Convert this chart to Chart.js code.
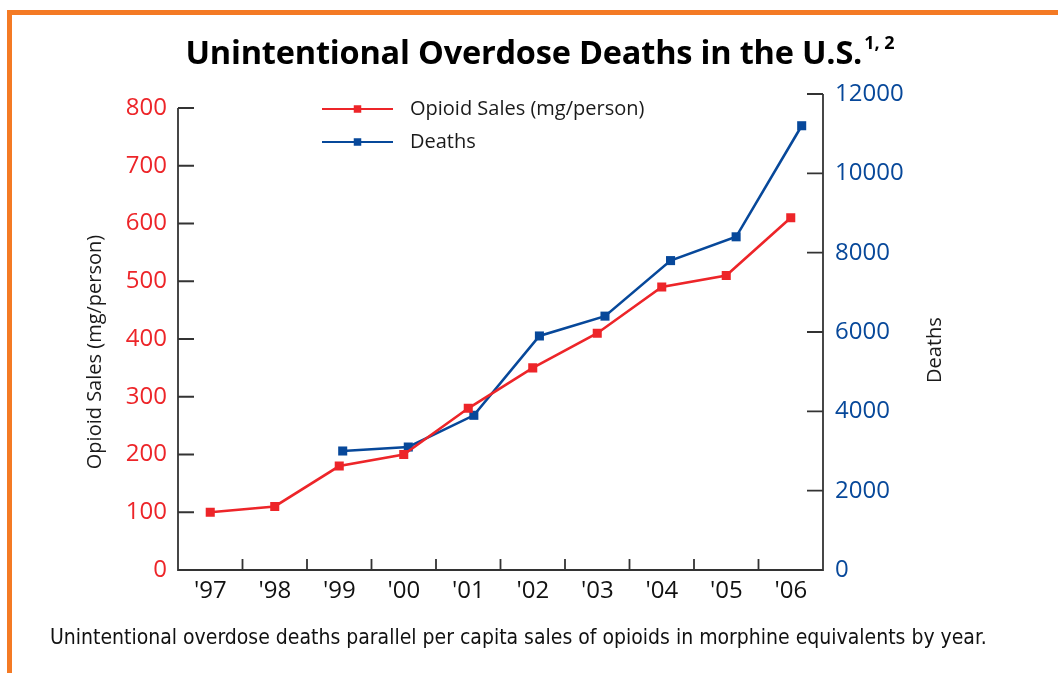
<!DOCTYPE html>
<html>
<head>
<meta charset="utf-8">
<script src="https://cdn.jsdelivr.net/npm/chart.js@4.4.0/dist/chart.umd.min.js"></script>
<style>
html, body { margin: 0; padding: 0; background: #fff; width: 1058px; height: 673px; overflow: hidden; }
#frame { position: absolute; left: 7px; top: 10px; width: 1100px; height: 700px;
  border-top: 5px solid #f47a24; border-left: 5px solid #f47a24; }
#title { position: absolute; left: 0; width: 1080px; top: 29px; text-align: center;
  font: bold 32.5px "Open Sans"; color: #000; white-space: nowrap; letter-spacing: -0.2px; }
#title sup { font-size: 18px; position: relative; top: -3px; margin-left: 2px; letter-spacing: 0; }
#caption { position: absolute; left: 50px; top: 625px; font: 21px "Liberation Sans Narrow", "DejaVu Sans Condensed", sans-serif;
  color: #111; white-space: nowrap; }
#wrap { position: absolute; left: 0; top: 0; width: 1058px; height: 673px; }
</style>
</head>
<body>
<div id="frame"></div>
<div id="wrap"><canvas id="overdoseChart"></canvas></div>
<div id="title">Unintentional Overdose Deaths in the U.S.<sup>1, 2</sup></div>
<div id="caption">Unintentional overdose deaths parallel per capita sales of opioids in morphine equivalents by year.</div>
<script>
// values
const years = ["'97", "'98", "'99", "'00", "'01", "'02", "'03", "'04", "'05", "'06"];
const salesValues = [100, 110, 180, 200, 280, 350, 410, 490, 510, 610];
const deathValues = [null, null, 3000, 3100, 3900, 5900, 6400, 7800, 8400, 11200];
const salesTickMax = 800;
const deathTickMax = 12000;

const red = '#ed2529';
const blue = '#07489a';
const ink = '#1a1a1a';

Chart.defaults.font.family = 'Open Sans';

// deaths were plotted on a slightly wider spacing than the sales series
const deathPoints = deathValues
    .map((v, i) => (v === null ? null : { x: i, y: v }))
    .filter(p => p !== null);

// axis lines with inward ticks, axis titles and the two-row legend
const framePlugin = {
    id: 'frame',
    beforeDatasetsDraw(chart) {
        const { ctx, scales } = chart;
        const x = scales.x, yL = scales.yL, yR = scales.yR;
        const base = yL.getPixelForValue(0);
        ctx.save();
        ctx.strokeStyle = '#333';
        ctx.lineWidth = 1.8;
        ctx.beginPath();
        ctx.moveTo(x.left, yL.getPixelForValue(salesTickMax));
        ctx.lineTo(x.left, base);
        ctx.lineTo(x.right, base);
        ctx.lineTo(x.right, yR.getPixelForValue(deathTickMax));
        yL.ticks.forEach(t => {
            const py = yL.getPixelForValue(t.value);
            ctx.moveTo(x.left, py);
            ctx.lineTo(x.left + 16, py);
        });
        yR.ticks.forEach(t => {
            const py = yR.getPixelForValue(t.value);
            ctx.moveTo(x.right, py);
            ctx.lineTo(x.right - 16, py);
        });
        for (let i = 1; i < years.length; i++) {
            const px = x.getPixelForValue(i - 0.5);
            ctx.moveTo(px, base);
            ctx.lineTo(px, base - 11);
        }
        ctx.stroke();

        ctx.fillStyle = ink;
        ctx.font = '20px "Open Sans"';
        ctx.textAlign = 'center';
        ctx.textBaseline = 'middle';
        ctx.translate(95, 352);
        ctx.rotate(-Math.PI / 2);
        ctx.fillText('Opioid Sales (mg/person)', 0, 0);
        ctx.restore();

        ctx.save();
        ctx.fillStyle = ink;
        ctx.font = '20px "Open Sans"';
        ctx.textAlign = 'center';
        ctx.textBaseline = 'middle';
        ctx.translate(935, 350);
        ctx.rotate(-Math.PI / 2);
        ctx.fillText('Deaths', 0, 0);
        ctx.restore();
    },
    afterDraw(chart) {
        const { ctx } = chart;
        ctx.save();
        chart.data.datasets.forEach((ds, i) => {
            const y = 109 + i * 33;
            ctx.strokeStyle = ds.borderColor;
            ctx.lineWidth = 2;
            ctx.beginPath();
            ctx.moveTo(322, y);
            ctx.lineTo(393, y);
            ctx.stroke();
            ctx.fillStyle = ds.borderColor;
            ctx.fillRect(357.5 - 3.75, y - 3.75, 7.5, 7.5);
            ctx.fillStyle = ink;
            ctx.font = '20px "Open Sans"';
            ctx.textAlign = 'left';
            ctx.textBaseline = 'middle';
            ctx.fillText(ds.label, 410, y);
        });
        ctx.restore();
    }
};

new Chart(document.getElementById('overdoseChart'), {
    type: 'line',
    data: {
        labels: years,
        datasets: [{
            label: 'Opioid Sales (mg/person)',
            data: salesValues,
            xAxisID: 'x',
            yAxisID: 'yL',
            borderColor: red,
            backgroundColor: red,
            borderWidth: 2.6,
            pointStyle: 'rect',
            pointRadius: 6.4,
            pointBorderWidth: 0,
            fill: false
        }, {
            label: 'Deaths',
            data: deathPoints,
            xAxisID: 'x2',
            yAxisID: 'yR',
            borderColor: blue,
            backgroundColor: blue,
            borderWidth: 2.6,
            pointStyle: 'rect',
            pointRadius: 6.4,
            pointBorderWidth: 0,
            fill: false
        }]
    },
    options: {
        responsive: true,
        maintainAspectRatio: false,
        animation: false,
        layout: { padding: { top: 94, left: 0, right: 0, bottom: 0 } },
        plugins: {
            legend: { display: false },
            tooltip: { enabled: false }
        },
        scales: {
            x: {
                type: 'category',
                offset: true,
                grid: { display: false, drawTicks: false },
                border: { display: false },
                ticks: { color: '#111', font: { size: 24 }, padding: 7, maxRotation: 0 },
                afterFit(s) { s.height = 103; }
            },
            x2: {
                type: 'linear',
                display: false,
                min: -0.512,
                max: 9.325
            },
            yL: {
                position: 'left',
                min: 0,
                max: salesTickMax * 476 / 462,
                grid: { display: false, drawTicks: false },
                border: { display: false },
                ticks: {
                    stepSize: 100, includeBounds: false, color: red, font: { size: 24 }, padding: 11,
                    callback: v => String(v)
                },
                afterBuildTicks(s) { s.ticks = s.ticks.filter(t => t.value <= salesTickMax); },
                afterFit(s) { s.width = 178; }
            },
            yR: {
                position: 'right',
                min: 0,
                max: deathTickMax,
                grid: { display: false, drawTicks: false },
                border: { display: false },
                ticks: {
                    stepSize: 2000, color: blue, font: { size: 24 }, padding: 12,
                    callback: v => String(v)
                },
                afterFit(s) { s.width = 235; }
            }
        }
    },
    plugins: [framePlugin]
});
</script>
</body>
</html>
